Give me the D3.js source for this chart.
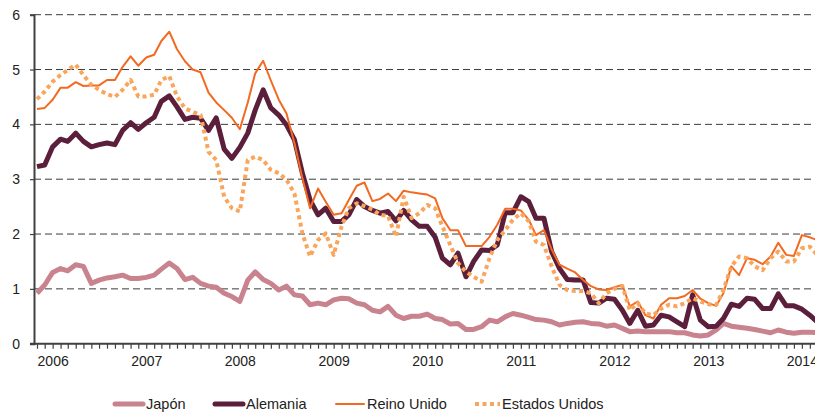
<!DOCTYPE html>
<html>
<head>
<meta charset="utf-8">
<script src="https://cdn.jsdelivr.net/npm/d3@7"></script>
<style>
  html, body { margin: 0; padding: 0; background: #fff; }
  svg { display: block; font-family: "Liberation Sans", Arial, sans-serif; }
</style>
</head>
<body>
<div id="chart"></div>
<script>
// meses: noviembre 2005 - marzo 2014
const startMonth = new Date(2005, 10, 1);
const endMonth = new Date(2014, 2, 1);
const months = d3.timeMonth.range(startMonth, d3.timeMonth.offset(endMonth, 1));

const yearTicks = [2006, 2007, 2008, 2009, 2010, 2011, 2012, 2013, 2014];
const yTicks = [0, 1, 2, 3, 4, 5, 6];

const japon = [
  0.92, 1.07, 1.30, 1.37, 1.33, 1.44, 1.41, 1.10, 1.16, 1.20,
  1.22, 1.25, 1.19, 1.19, 1.21, 1.25, 1.36, 1.47, 1.37, 1.17,
  1.21, 1.10, 1.05, 1.03, 0.92, 0.86, 0.77, 1.16, 1.31, 1.17,
  1.10, 0.98, 1.05, 0.89, 0.87, 0.71, 0.74, 0.71, 0.80, 0.83,
  0.82, 0.74, 0.71, 0.61, 0.58, 0.68, 0.52, 0.46, 0.50, 0.50,
  0.54, 0.46, 0.44, 0.36, 0.37, 0.26, 0.26, 0.31, 0.43, 0.40,
  0.49, 0.55, 0.52, 0.48, 0.44, 0.43, 0.40, 0.34, 0.37, 0.39,
  0.40, 0.37, 0.36, 0.32, 0.34, 0.28, 0.22, 0.23, 0.22, 0.22,
  0.22, 0.22, 0.20, 0.20, 0.16, 0.14, 0.16, 0.25, 0.37, 0.32,
  0.30, 0.28, 0.26, 0.23, 0.20, 0.25, 0.21, 0.19, 0.21, 0.21, 0.20
];

const alemania = [
  3.23, 3.26, 3.59, 3.73, 3.69, 3.84, 3.69, 3.59, 3.63, 3.66,
  3.63, 3.89, 4.03, 3.91, 4.03, 4.13, 4.42, 4.52, 4.32, 4.09,
  4.13, 4.11, 3.89, 4.12, 3.55, 3.38, 3.58, 3.84, 4.26, 4.63,
  4.30, 4.17, 3.99, 3.72, 3.11, 2.62, 2.35, 2.47, 2.23, 2.23,
  2.35, 2.63, 2.50, 2.43, 2.38, 2.41, 2.24, 2.43, 2.26, 2.14,
  2.14, 1.94, 1.56, 1.44, 1.65, 1.22, 1.50, 1.71, 1.70, 1.80,
  2.39, 2.39, 2.68, 2.59, 2.29, 2.29, 1.68, 1.37, 1.17, 1.16,
  1.16, 0.75, 0.74, 0.83, 0.81, 0.61, 0.37, 0.61, 0.32, 0.34,
  0.52, 0.49, 0.40, 0.31, 0.89, 0.43, 0.31, 0.32, 0.46, 0.72,
  0.68, 0.83, 0.81, 0.64, 0.64, 0.91, 0.69, 0.69, 0.63, 0.52, 0.40
];

const reinoUnido = [
  4.28, 4.30, 4.45, 4.67, 4.67, 4.77, 4.70, 4.71, 4.71, 4.81,
  4.81, 5.05, 5.24, 5.07, 5.22, 5.27, 5.52, 5.69, 5.37, 5.15,
  5.00, 4.95, 4.58, 4.40, 4.26, 4.12, 3.91, 4.40, 4.93, 5.16,
  4.80, 4.45, 4.20, 3.66, 3.02, 2.47, 2.83, 2.59, 2.35, 2.38,
  2.62, 2.88, 2.94, 2.60, 2.64, 2.74, 2.60, 2.79, 2.76, 2.74,
  2.72, 2.65, 2.29, 2.07, 2.07, 1.78, 1.78, 1.78, 1.95, 2.17,
  2.46, 2.46, 2.43, 2.26, 1.98, 2.07, 1.72, 1.44, 1.37, 1.30,
  1.16, 1.05, 0.99, 0.98, 1.03, 1.07, 0.68, 0.77, 0.52, 0.46,
  0.71, 0.83, 0.83, 0.87, 0.98, 0.82, 0.74, 0.69, 0.92, 1.41,
  1.25, 1.56, 1.53, 1.45, 1.59, 1.84, 1.62, 1.60, 1.98, 1.94, 1.89
];

const estadosUnidos = [
  4.46, 4.60, 4.78, 4.90, 4.99, 5.09, 4.90, 4.72, 4.63, 4.55,
  4.50, 4.63, 4.81, 4.51, 4.51, 4.54, 4.81, 4.88, 4.51, 4.29,
  4.23, 4.17, 3.50, 3.35, 2.68, 2.47, 2.41, 3.35, 3.41, 3.35,
  3.17, 3.11, 2.99, 2.74, 2.01, 1.59, 1.89, 2.01, 1.62, 2.14,
  2.47, 2.56, 2.51, 2.45, 2.35, 2.33, 1.95, 2.68, 2.29, 2.38,
  2.53, 2.47, 2.14, 1.80, 1.47, 1.31, 1.22, 1.13, 1.56, 1.89,
  2.07, 2.26, 2.38, 2.23, 1.86, 1.80, 1.41, 1.07, 0.98, 0.96,
  0.96, 0.92, 0.74, 0.92, 1.00, 1.05, 0.61, 0.74, 0.55, 0.52,
  0.64, 0.71, 0.68, 0.74, 0.83, 0.77, 0.72, 0.71, 0.98, 1.41,
  1.59, 1.56, 1.41, 1.34, 1.56, 1.68, 1.50, 1.50, 1.74, 1.77, 1.62
];

const series = [
  { name: "Japón", values: japon, color: "#c9838f", width: 5, dash: null },
  { name: "Alemania", values: alemania, color: "#5b1f3c", width: 5, dash: null },
  { name: "Reino Unido", values: reinoUnido, color: "#f26a21", width: 2, dash: null },
  { name: "Estados Unidos", values: estadosUnidos, color: "#f9a65c", width: 4, dash: "4,3.5" }
];

const width = 815, height = 414;
const plot = { left: 34, right: 815, top: 14.7, bottom: 343.7 };

const svg = d3.select("#chart").append("svg")
  .attr("width", width)
  .attr("height", height);

const x = d3.scaleTime()
  .domain([startMonth, endMonth])
  .range([37, 817]);

const y = d3.scaleLinear()
  .domain([0, 6])
  .range([plot.bottom, plot.top]);

// líneas de cuadrícula discontinuas
svg.append("g")
  .selectAll("line")
  .data(yTicks.filter(d => d > 0))
  .enter()
  .append("line")
  .attr("x1", plot.left)
  .attr("x2", plot.right)
  .attr("y1", d => y(d))
  .attr("y2", d => y(d))
  .attr("stroke", "#3a3a3a")
  .attr("stroke-width", 1)
  .attr("stroke-dasharray", "7,4");

// eje Y
const yAxis = svg.append("g")
  .attr("transform", `translate(${plot.left},0)`)
  .call(d3.axisLeft(y).tickValues(yTicks).tickSize(4).tickPadding(10).tickFormat(d3.format("d")));
yAxis.select(".domain").attr("stroke", "#404040").attr("stroke-width", 2);
yAxis.selectAll(".tick line").attr("stroke", "#404040").attr("stroke-width", 1.2);
yAxis.selectAll("text").attr("fill", "#222").style("font-size", "14px").style("font-family", "Liberation Sans, Arial, sans-serif");

// series
const line = d3.line()
  .x((d, i) => x(months[i]))
  .y(d => y(d));

svg.append("defs").append("clipPath").attr("id", "plot-clip")
  .append("rect")
  .attr("x", plot.left).attr("y", 0)
  .attr("width", plot.right - plot.left).attr("height", plot.bottom + 4);

const linesG = svg.append("g").attr("clip-path", "url(#plot-clip)");
series.forEach(s => {
  linesG.append("path")
    .datum(s.values)
    .attr("d", line)
    .attr("fill", "none")
    .attr("stroke", s.color)
    .attr("stroke-width", s.width)
    .attr("stroke-linejoin", "round")
    .attr("stroke-dasharray", s.dash);
});

// eje X: marcas mensuales
const xAxis = svg.append("g")
  .attr("transform", `translate(0,${plot.bottom})`)
  .call(d3.axisBottom(x).tickValues(months.filter(m => x(m) <= plot.right)).tickSize(5).tickFormat(""));
xAxis.select(".domain").remove();
xAxis.selectAll(".tick line").attr("stroke", "#404040").attr("stroke-width", 1.2);

svg.append("line")
  .attr("x1", plot.left - 4)
  .attr("x2", plot.right)
  .attr("y1", plot.bottom)
  .attr("y2", plot.bottom)
  .attr("stroke", "#404040")
  .attr("stroke-width", 2);

// etiquetas de años
const yearAxis = svg.append("g")
  .attr("transform", `translate(0,${plot.bottom})`)
  .call(d3.axisBottom(x)
    .tickValues(yearTicks.map(yr => new Date(yr, 0, 1)))
    .tickSize(0)
    .tickPadding(12)
    .tickFormat(d3.timeFormat("%Y")));
yearAxis.select(".domain").remove();
yearAxis.selectAll("text").attr("fill", "#222").style("font-size", "14px").style("font-family", "Liberation Sans, Arial, sans-serif");

// leyenda
const legendX = [115, 215, 336, 475];
const legend = svg.append("g").attr("transform", "translate(0,404)");
series.forEach((s, i) => {
  const g = legend.append("g").attr("transform", `translate(${legendX[i]},0)`);
  g.append("line")
    .attr("x1", 0).attr("x2", s.dash ? 25 : 28)
    .attr("y1", 0).attr("y2", 0)
    .attr("stroke", s.color)
    .attr("stroke-width", s.width)
    .attr("stroke-linecap", s.dash ? "butt" : "round")
    .attr("stroke-dasharray", s.dash);
  g.append("text")
    .attr("x", s.dash ? 27 : 31)
    .attr("y", 5)
    .attr("fill", "#222")
    .style("font-size", "14.5px")
    .text(s.name);
});
</script>
</body>
</html>
